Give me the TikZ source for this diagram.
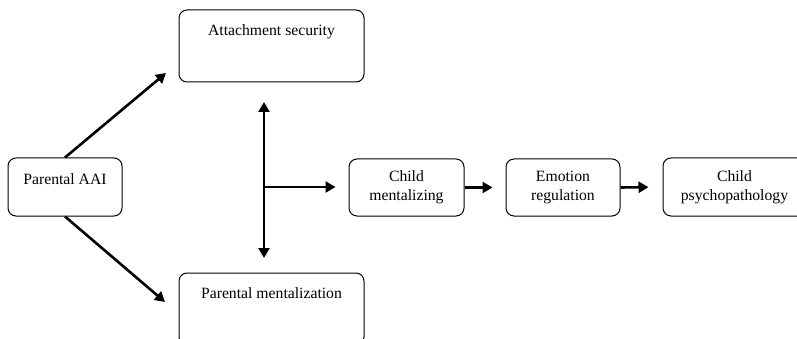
\documentclass[tikz,border=0pt]{standalone}
\usepackage{fontspec}
\setmainfont{Liberation Serif}
\usetikzlibrary{arrows.meta}
\begin{document}
\begin{tikzpicture}[x=1pt,y=-1pt,
 box/.style={draw, line width=1pt, rounded corners=8pt, inner sep=0pt},
 txt/.style={font=\fontsize{15.7}{18.8}\selectfont, align=center, inner sep=0pt},
 arr/.style={line width=2.6pt, -{Triangle[length=10pt,width=11pt]}},
 darr/.style={line width=2.6pt, {Triangle[length=10pt,width=11pt]}-{Triangle[length=10pt,width=11pt]}}]
\useasboundingbox (0,0) rectangle (797,339);
\clip (0,0) rectangle (797,339);
% boxes
\node[box, minimum width=114pt, minimum height=58pt] (aai) at (65,187) {};
\node[box, minimum width=185pt, minimum height=72pt] (att) at (271.5,46) {};
\node[box, minimum width=185pt, minimum height=72pt] (pm) at (271.5,309) {};
\node[box, txt, minimum width=115pt, minimum height=57pt] (cm) at (406.5,187.5) {Child\\mentalizing};
\node[box, txt, minimum width=114pt, minimum height=57pt] (er) at (563,187.5) {Emotion\\regulation};
\node[box, txt, minimum width=143pt, minimum height=58pt] (cp) at (734.5,187) {Child\\psychopathology};
% texts in the top part of boxes
\node[txt] (taai) at (65,179) {Parental AAI};
\node[txt] (tatt) at (271.5,32) {Attachment security};
\node[txt] (tpm) at (271.5,293) {Parental mentalization};
% connectors
\coordinate (a1) at (166,73);
\coordinate (a2) at (165,302);
\coordinate (v1) at (264,102);
\coordinate (v2) at (264,258);
\coordinate (vb) at (264,187);
\draw[arr] (aai.north) -- (a1);
\draw[arr] (aai.south) -- (a2);
\draw[darr] (v1) -- (v2);
\draw[arr, shorten >=13pt] (vb) -- (vb -| cm.west);
\draw[arr, shorten >=13pt] (cm.east) -- (er.west);
\draw[arr, shorten >=14pt] (er.east) -- (cp.west);
\end{tikzpicture}
\end{document}
